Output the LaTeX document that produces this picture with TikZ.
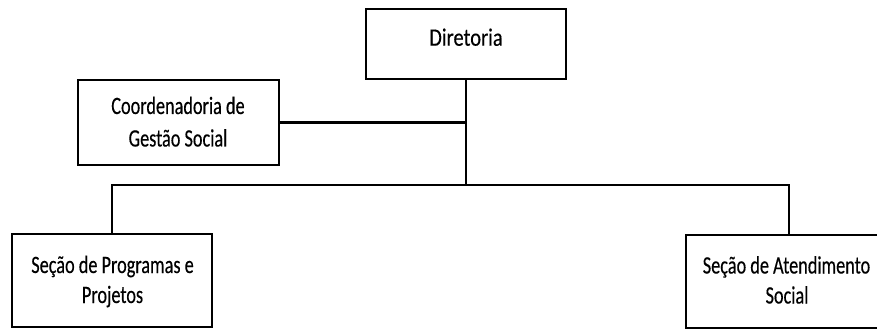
\documentclass[tikz,border=0pt]{standalone}
\usepackage{fontspec}
\setmainfont{Carlito}[FakeStretch=0.73,FakeBold=0.3]
\newfontfamily\dirfont{Carlito}[FakeStretch=0.82,FakeBold=0.3]
\begin{document}
\begin{tikzpicture}[x=1pt,y=-1pt,
  box/.style={draw=black, line width=2.2pt, inner sep=0pt, minimum width=#1},
  txt/.style={inner sep=0pt, anchor=base, font=\fontsize{25}{31}\selectfont, text=black},
  bigtxt/.style={inner sep=0pt, anchor=base, font=\dirfont\fontsize{25}{31}\selectfont, text=black},
  conn/.style={draw=black, line width=2.2pt},
  thinconn/.style={draw=black, line width=1.5pt}]
\useasboundingbox (0,0) rectangle (877,331);
\clip (0,0) rectangle (877,331);
\fill[white] (0,0) rectangle (877,331);
% boxes
\node[box=200pt, minimum height=70pt] (dir) at (466,44) {};
\node[box=201pt, minimum height=85pt] (coord) at (178.5,122.5) {};
\node[box=200pt, minimum height=93pt] (prog) at (112,280.5) {};
\node[box=201pt, minimum height=93pt] (atend) at (786.5,281.5) {};
% texts
\node[bigtxt] (dirt) at (466,45.7) {Diretoria};
\node[txt] (coordt1) at (178,114) {Coordenadoria de};
\node[txt] (coordt2) at (178,146.5) {Gestão Social};
\node[txt] (progt1) at (112.5,273) {Seção de Programas e};
\node[txt] (progt2) at (112.5,303) {Projetos};
\node[txt] (atendt1) at (786.5,273.5) {Seção de Atendimento};
\node[txt] (atendt2) at (787,303.5) {Social};
% junctions
\coordinate (j) at (466,185);
\coordinate (jl) at (112,185);
\coordinate (jm) at (580,185);
\coordinate (jr) at (789,185);
% connectors
\draw[conn] (dir.south) -- (j);
\draw[conn] (coord.east) -- (coord.east -| j);
\draw[conn, line cap=rect] (jl) -- (jm);
\draw[thinconn, line cap=rect] (jm) -- (jr);
\draw[conn] (jl) -- (prog.north);
\draw[thinconn] (jr) -- (jr |- atend.north);
\end{tikzpicture}
\end{document}
